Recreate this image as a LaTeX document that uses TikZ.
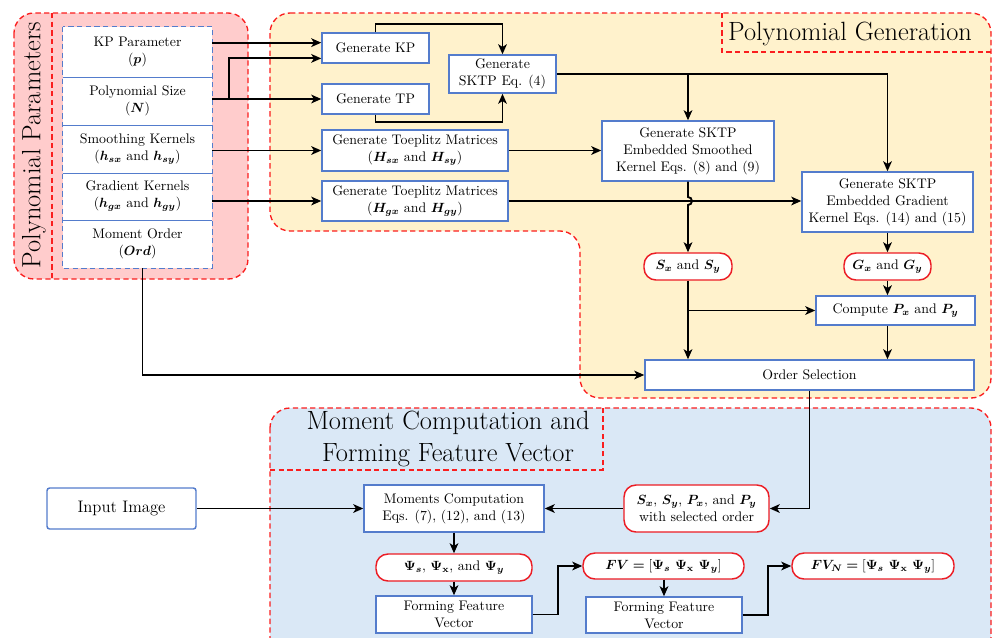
\documentclass[tikz,border=0pt]{standalone}
\usepackage{bm}
\usetikzlibrary{arrows.meta,calc}
\definecolor{boxblue}{RGB}{84,124,204}
\definecolor{pillred}{RGB}{236,28,36}
\definecolor{regred}{RGB}{250,30,30}
\definecolor{pinkfill}{RGB}{255,204,204}
\definecolor{yelfill}{RGB}{255,242,204}
\definecolor{bluefill}{RGB}{218,232,246}
\newcommand\mynodefont{\fontsize{10.4}{12.75}\selectfont}
\newcommand\myttlfont{\fontsize{19.8}{23.5}\selectfont}
\tikzset{
 bx/.style={draw=boxblue, line width=1.1pt, fill=white, align=center, inner sep=0pt, font=\mynodefont},
 pill/.style={draw=pillred, line width=1.1pt, fill=white, align=center, inner sep=0pt, rounded corners=9pt, font=\mynodefont},
 cell/.style={fill=white, align=center, inner sep=0pt, minimum width=111.75pt, font=\mynodefont},
 region/.style={draw=regred, dash pattern=on 4pt off 2.5pt, line width=1pt},
 arr/.style={line width=1.4pt, -{Stealth[length=7.5pt,width=6.5pt,inset=2pt]}},
 ttl/.style={font=\myttlfont, align=center, inner sep=0pt}
}
\begin{document}
\begin{tikzpicture}[x=0.75pt,y=-0.75pt]
\useasboundingbox (0,0) rectangle (993,637);
\clip (0,0) rectangle (993,637);
% ---------- regions ----------
\draw[region, fill=pinkfill, rounded corners=15pt] (14,13) rectangle (248,279);
\draw[region] (52,13) -- (52,279);
\node[ttl, rotate=90] (pptitle) at (34,145) {Polynomial Parameters};

\draw[region, fill=yelfill, rounded corners=15pt] (270,13) -- (991,13) -- (991,398) -- (580,398) -- (580,231) -- (270,231) -- cycle;
\draw[region] (722,13) -- (722,52) -- (991,52);
\node[ttl] (pgtitle) at (850,34) {Polynomial Generation};

\draw[region, fill=bluefill, rounded corners=15pt] (270,408) rectangle (991,660);
\draw[region] (270,470) -- (603,470) -- (603,408);
\node[ttl] (mctitle) at (448,439) {Moment Computation and\\Forming Feature Vector};

% ---------- parameter stack ----------
\node[cell, minimum height=37.5pt] (c1) at (137.5,52) {KP Parameter\\($\bm{p}$)};
\node[cell, minimum height=36pt] (c2) at (137.5,101) {Polynomial Size\\($\bm{N}$)};
\node[cell, minimum height=36pt] (c3) at (137.5,149) {Smoothing Kernels\\($\bm{h}_{\bm{sx}}$ and $\bm{h}_{\bm{sy}}$)};
\node[cell, minimum height=35.25pt] (c4) at (137.5,196.5) {Gradient Kernels\\($\bm{h}_{\bm{gx}}$ and $\bm{h}_{\bm{gy}}$)};
\node[cell, minimum height=36pt] (c5) at (137.5,244) {Moment Order\\($\bm{Ord}$)};
\foreach \c in {c1,c2,c3,c4}
  \draw[boxblue, line width=1.1pt] (\c.south west) -- (\c.south east);
\draw[boxblue, line width=1.1pt, dash pattern=on 4pt off 2.5pt] (c1.north west) rectangle (c5.south east);

% ---------- polynomial generation ----------
\node[bx, minimum width=80.25pt, minimum height=22.5pt] (genkp) at (375.5,48) {Generate KP};
\node[bx, minimum width=80.25pt, minimum height=22.5pt] (gentp) at (375.5,99) {Generate TP};
\node[bx, minimum width=80.25pt, minimum height=28.5pt] (sktp) at (502.5,74) {Generate\\SKTP Eq. (4)};
\node[bx, minimum width=139.5pt, minimum height=30.75pt] (tz1) at (415,150.5) {Generate Toeplitz Matrices\\($\bm{H}_{\bm{sx}}$ and $\bm{H}_{\bm{sy}}$)};
\node[bx, minimum width=139.5pt, minimum height=30pt] (tz2) at (415,201) {Generate Toeplitz Matrices\\($\bm{H}_{\bm{gx}}$ and $\bm{H}_{\bm{gy}}$)};
\node[bx, minimum width=129pt, minimum height=45pt] (sks) at (688,151) {Generate SKTP\\Embedded Smoothed\\Kernel Eqs. (8) and (9)};
\node[bx, minimum width=128.25pt, minimum height=45pt] (skg) at (887.5,202) {Generate SKTP\\Embedded Gradient\\Kernel Eqs. (14) and (15)};
\node[pill, minimum width=66pt, minimum height=20.25pt] (sxsy) at (688,266.5) {$\bm{S}_{\bm{x}}$ and $\bm{S}_{\bm{y}}$};
\node[pill, minimum width=65.25pt, minimum height=20.25pt] (gxgy) at (887.5,266.5) {$\bm{G}_{\bm{x}}$ and $\bm{G}_{\bm{y}}$};
\node[bx, minimum width=119.25pt, minimum height=21.75pt] (cpx) at (895.5,310.5) {Compute $\bm{P}_{\bm{x}}$ and $\bm{P}_{\bm{y}}$};
\node[bx, minimum width=246.75pt, minimum height=22.5pt] (ord) at (809.5,375) {Order Selection};

% ---------- moment computation ----------
\node[bx, rounded corners=2pt, minimum width=111.75pt, minimum height=30.75pt, font=\fontsize{12.5}{15}\selectfont] (inp) at (121.5,508.5) {Input Image};
\node[bx, minimum width=135pt, minimum height=35.25pt] (mom) at (454,508.5) {Moments Computation\\Eqs. (7), (12), and (13)};
\node[pill, minimum width=108.75pt, minimum height=35.25pt] (sel) at (696.5,508.5) {$\bm{S}_{\bm{x}}$, $\bm{S}_{\bm{y}}$, $\bm{P}_{\bm{x}}$, and $\bm{P}_{\bm{y}}$\\with selected order};
\node[pill, minimum width=117pt, minimum height=20.25pt] (psi) at (454,567.5) {$\bm{\Psi}_{\bm{s}}$, $\bm{\Psi}_{\mathbf{x}}$, and $\bm{\Psi}_{\bm{y}}$};
\node[bx, minimum width=117pt, minimum height=27.75pt] (ffv1) at (454,614.5) {Forming Feature\\Vector};
\node[pill, minimum width=120.75pt, minimum height=19.5pt] (fv) at (663.5,566) {$\bm{FV}\bm{=}\left[\bm{\Psi}_{\bm{s}}\ \bm{\Psi}_{\mathbf{x}}\ \bm{\Psi}_{\bm{y}}\right]$};
\node[bx, minimum width=117pt, minimum height=27pt] (ffv2) at (664,615) {Forming Feature\\Vector};
\node[pill, minimum width=121.5pt, minimum height=19.5pt] (fvn) at (873,566) {$\bm{FV}_{\bm{N}}\bm{=}\left[\bm{\Psi}_{\bm{s}}\ \bm{\Psi}_{\mathbf{x}}\ \bm{\Psi}_{\bm{y}}\right]$};

% ---------- helper coordinates ----------
\coordinate (kpin1) at ($(genkp.north west)!0.33!(genkp.south west)$);
\coordinate (kpin2) at ($(genkp.north west)!0.83!(genkp.south west)$);
\coordinate (nbr) at ($(c2.east |- gentp.west)+(17,0)$);
\coordinate (hop) at ($(sks.south |- tz2.east)+(0,-4)$);

% ---------- connectors ----------
\draw[arr] (c1.east |- kpin1) -- (kpin1);
\draw[arr] (c2.east |- gentp.west) -- (gentp.west);
\draw[arr] (nbr) |- (kpin2);
\draw[arr] (c3.east |- tz1.west) -- (tz1.west);
\draw[arr] (c4.east |- tz2.west) -- (tz2.west);
\draw[arr] (genkp.north) -- ++(0,-8) -| (sktp.north);
\draw[arr] (gentp.south) -- ++(0,7) -| (sktp.south);
\draw[arr] (sktp.east) -| (skg.north);
\draw[arr] (sktp.east -| sks.north) -- (sks.north);
\draw[arr] (tz1.east) -- (sks.west |- tz1.east);
\draw[arr] (tz2.east) -- (skg.west |- tz2.east);
\draw[arr] (sks.south) -- (hop) arc[start angle=90, end angle=-90, radius=3pt] -- (sxsy.north);
\draw[arr] (skg.south) -- (gxgy.north);
\draw[arr] (gxgy.south) -- (cpx.north -| gxgy.south);
\draw[arr] (sxsy.south) -- (ord.north -| sxsy.south);
\draw[arr] (sxsy.south |- cpx.west) -- (cpx.west);
\draw[arr] (cpx.south -| gxgy.south) -- (ord.north -| gxgy.south);
\draw[arr] ($(c5.south)+(5,0)$) |- (ord.west);
\draw[arr] (ord.south) |- (sel.east);
\draw[arr] (inp.east) -- (mom.west |- inp.east);
\draw[arr] (sel.west) -- (mom.east |- sel.west);
\draw[arr] (mom.south) -- (psi.north);
\draw[arr] (psi.south) -- (ffv1.north);
\draw[arr] (ffv1.east) -- ++(25,0) |- (fv.west);
\draw[arr] (fv.south -| ffv2.north) -- (ffv2.north);
\draw[arr] (ffv2.east) -- ++(25,0) |- (fvn.west);
\end{tikzpicture}
\end{document}
